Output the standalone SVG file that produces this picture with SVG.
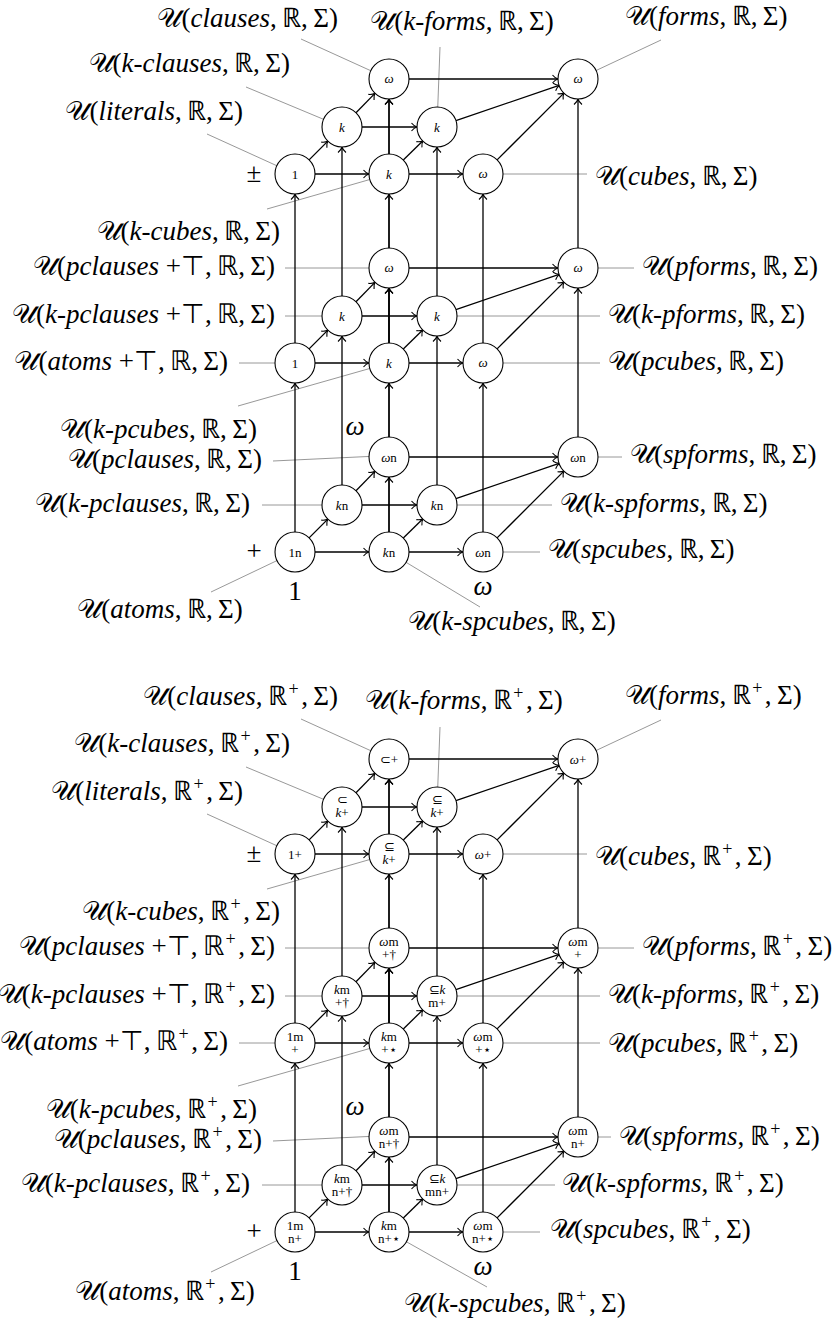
<svg xmlns="http://www.w3.org/2000/svg" width="834" height="1326" viewBox="0 0 834 1326">
<style>
.lbl{font-family:"Liberation Serif",serif;font-size:27px;fill:#000}
.sup{font-size:18px}
.it{font-style:italic}
.nt{font-family:"Liberation Serif",serif;font-size:13px;text-anchor:middle;fill:#000}
.node circle{fill:#fff;stroke:#000;stroke-width:1.1}
.edge line{stroke:#000;stroke-width:1.3;marker-end:url(#arr)}
.lead line{stroke:#8c8c8c;stroke-width:0.9}
</style>
<defs>
<marker id="arr" viewBox="-6 -5 8 10" markerWidth="8" markerHeight="10" refX="0" refY="0" orient="auto" markerUnits="userSpaceOnUse">
<path d="M-5,-4 C-3,-1.5 -1,-0.4 0.5,0 C-1,0.4 -3,1.5 -5,4" fill="none" stroke="#000" stroke-width="1.1"/>
</marker>
</defs>
<rect width="834" height="1326" fill="#fff"/>

<g id="connectors">
<g class="lead" id="leaders">
<line x1="301" y1="39" x2="389" y2="79"/>
<line x1="440" y1="47" x2="437" y2="127"/>
<line x1="661" y1="40" x2="578" y2="79"/>
<line x1="246" y1="87" x2="342" y2="127"/>
<line x1="207" y1="134" x2="295" y2="174"/>
<line x1="267" y1="209" x2="389" y2="174"/>
<line x1="483" y1="174" x2="587" y2="174"/>
<line x1="285" y1="268" x2="389" y2="268"/>
<line x1="285" y1="316" x2="342" y2="316"/>
<line x1="239" y1="363" x2="295" y2="363"/>
<line x1="238" y1="406" x2="389" y2="363"/>
<line x1="273" y1="461" x2="389" y2="455.5"/>
<line x1="262" y1="505" x2="342" y2="505"/>
<line x1="211" y1="592" x2="295" y2="552"/>
<line x1="578" y1="268" x2="634" y2="268"/>
<line x1="437" y1="316" x2="600" y2="316"/>
<line x1="483" y1="363" x2="600" y2="363"/>
<line x1="578" y1="457" x2="622" y2="457"/>
<line x1="437" y1="505" x2="552" y2="505"/>
<line x1="483" y1="552" x2="540" y2="552"/>
<line x1="389" y1="552" x2="480" y2="607"/>
<line x1="301" y1="719" x2="389" y2="759"/>
<line x1="440" y1="727" x2="437" y2="807"/>
<line x1="661" y1="720" x2="578" y2="759"/>
<line x1="246" y1="767" x2="342" y2="807"/>
<line x1="207" y1="814" x2="295" y2="854"/>
<line x1="267" y1="889" x2="389" y2="854"/>
<line x1="483" y1="854" x2="587" y2="854"/>
<line x1="285" y1="948" x2="389" y2="948"/>
<line x1="285" y1="996" x2="342" y2="996"/>
<line x1="239" y1="1043" x2="295" y2="1043"/>
<line x1="238" y1="1086" x2="389" y2="1043"/>
<line x1="273" y1="1141" x2="389" y2="1135.5"/>
<line x1="262" y1="1185" x2="342" y2="1185"/>
<line x1="211" y1="1272" x2="295" y2="1232"/>
<line x1="578" y1="948" x2="634" y2="948"/>
<line x1="437" y1="996" x2="600" y2="996"/>
<line x1="483" y1="1043" x2="600" y2="1043"/>
<line x1="578" y1="1137" x2="611" y2="1137"/>
<line x1="437" y1="1185" x2="555" y2="1185"/>
<line x1="483" y1="1232" x2="540" y2="1232"/>
<line x1="389" y1="1232" x2="487" y2="1287"/>
</g>

<g class="edge" id="intra-1">
<line x1="315" y1="174" x2="368.5" y2="174"/><line x1="409" y1="174" x2="462.5" y2="174"/><line x1="309.1" y1="159.9" x2="327.6" y2="141.4"/><line x1="356" y1="112.7" x2="374.7" y2="93.6"/><line x1="362" y1="127" x2="416.5" y2="127"/><line x1="403.3" y1="160" x2="422.7" y2="141"/><line x1="389" y1="154" x2="389" y2="99.5"/><line x1="409" y1="79" x2="557.5" y2="79"/><line x1="455.9" y1="120.6" x2="559.1" y2="85.4"/><line x1="497.1" y1="159.9" x2="563.9" y2="93.1"/>
</g>
<g class="edge" id="intra-2" transform="translate(0,189)">
<line x1="315" y1="174" x2="368.5" y2="174"/><line x1="409" y1="174" x2="462.5" y2="174"/><line x1="309.1" y1="159.9" x2="327.6" y2="141.4"/><line x1="356" y1="112.7" x2="374.7" y2="93.6"/><line x1="362" y1="127" x2="416.5" y2="127"/><line x1="403.3" y1="160" x2="422.7" y2="141"/><line x1="389" y1="154" x2="389" y2="99.5"/><line x1="409" y1="79" x2="557.5" y2="79"/><line x1="455.9" y1="120.6" x2="559.1" y2="85.4"/><line x1="497.1" y1="159.9" x2="563.9" y2="93.1"/>
</g>
<g class="edge" id="intra-3" transform="translate(0,378)">
<line x1="315" y1="174" x2="368.5" y2="174"/><line x1="409" y1="174" x2="462.5" y2="174"/><line x1="309.1" y1="159.9" x2="327.6" y2="141.4"/><line x1="356" y1="112.7" x2="374.7" y2="93.6"/><line x1="362" y1="127" x2="416.5" y2="127"/><line x1="403.3" y1="160" x2="422.7" y2="141"/><line x1="389" y1="154" x2="389" y2="99.5"/><line x1="409" y1="79" x2="557.5" y2="79"/><line x1="455.9" y1="120.6" x2="559.1" y2="85.4"/><line x1="497.1" y1="159.9" x2="563.9" y2="93.1"/>
</g>
<g class="edge" id="intra-4" transform="translate(0,680)">
<line x1="315" y1="174" x2="368.5" y2="174"/><line x1="409" y1="174" x2="462.5" y2="174"/><line x1="309.1" y1="159.9" x2="327.6" y2="141.4"/><line x1="356" y1="112.7" x2="374.7" y2="93.6"/><line x1="362" y1="127" x2="416.5" y2="127"/><line x1="403.3" y1="160" x2="422.7" y2="141"/><line x1="389" y1="154" x2="389" y2="99.5"/><line x1="409" y1="79" x2="557.5" y2="79"/><line x1="455.9" y1="120.6" x2="559.1" y2="85.4"/><line x1="497.1" y1="159.9" x2="563.9" y2="93.1"/>
</g>
<g class="edge" id="intra-5" transform="translate(0,869)">
<line x1="315" y1="174" x2="368.5" y2="174"/><line x1="409" y1="174" x2="462.5" y2="174"/><line x1="309.1" y1="159.9" x2="327.6" y2="141.4"/><line x1="356" y1="112.7" x2="374.7" y2="93.6"/><line x1="362" y1="127" x2="416.5" y2="127"/><line x1="403.3" y1="160" x2="422.7" y2="141"/><line x1="389" y1="154" x2="389" y2="99.5"/><line x1="409" y1="79" x2="557.5" y2="79"/><line x1="455.9" y1="120.6" x2="559.1" y2="85.4"/><line x1="497.1" y1="159.9" x2="563.9" y2="93.1"/>
</g>
<g class="edge" id="intra-6" transform="translate(0,1058)">
<line x1="315" y1="174" x2="368.5" y2="174"/><line x1="409" y1="174" x2="462.5" y2="174"/><line x1="309.1" y1="159.9" x2="327.6" y2="141.4"/><line x1="356" y1="112.7" x2="374.7" y2="93.6"/><line x1="362" y1="127" x2="416.5" y2="127"/><line x1="403.3" y1="160" x2="422.7" y2="141"/><line x1="389" y1="154" x2="389" y2="99.5"/><line x1="409" y1="79" x2="557.5" y2="79"/><line x1="455.9" y1="120.6" x2="559.1" y2="85.4"/><line x1="497.1" y1="159.9" x2="563.9" y2="93.1"/>
</g>
<g class="edge" id="inter-21">
<line x1="295" y1="343" x2="295" y2="194.5"/><line x1="389" y1="343" x2="389" y2="194.5"/><line x1="483" y1="343" x2="483" y2="194.5"/><line x1="342" y1="296" x2="342" y2="147.5"/><line x1="437" y1="296" x2="437" y2="147.5"/><line x1="389" y1="248" x2="389" y2="99.5"/><line x1="578" y1="248" x2="578" y2="99.5"/>
</g>
<g class="edge" id="inter-32" transform="translate(0,189)">
<line x1="295" y1="343" x2="295" y2="194.5"/><line x1="389" y1="343" x2="389" y2="194.5"/><line x1="483" y1="343" x2="483" y2="194.5"/><line x1="342" y1="296" x2="342" y2="147.5"/><line x1="437" y1="296" x2="437" y2="147.5"/><line x1="389" y1="248" x2="389" y2="99.5"/><line x1="578" y1="248" x2="578" y2="99.5"/>
</g>
<g class="edge" id="inter-54" transform="translate(0,680)">
<line x1="295" y1="343" x2="295" y2="194.5"/><line x1="389" y1="343" x2="389" y2="194.5"/><line x1="483" y1="343" x2="483" y2="194.5"/><line x1="342" y1="296" x2="342" y2="147.5"/><line x1="437" y1="296" x2="437" y2="147.5"/><line x1="389" y1="248" x2="389" y2="99.5"/><line x1="578" y1="248" x2="578" y2="99.5"/>
</g>
<g class="edge" id="inter-65" transform="translate(0,869)">
<line x1="295" y1="343" x2="295" y2="194.5"/><line x1="389" y1="343" x2="389" y2="194.5"/><line x1="483" y1="343" x2="483" y2="194.5"/><line x1="342" y1="296" x2="342" y2="147.5"/><line x1="437" y1="296" x2="437" y2="147.5"/><line x1="389" y1="248" x2="389" y2="99.5"/><line x1="578" y1="248" x2="578" y2="99.5"/>
</g>
</g>

<g id="nodes">
<g id="n-literals" class="node" transform="translate(295,174)"><circle r="20"/><text class="nt" y="4.5">1</text></g>
<g id="n-kcubes" class="node" transform="translate(389,174)"><circle r="20"/><text class="nt it" y="4.5">k</text></g>
<g id="n-cubes" class="node" transform="translate(483,174)"><circle r="20"/><text class="nt it" y="4">ω</text></g>
<g id="n-kclauses" class="node" transform="translate(342,127)"><circle r="20"/><text class="nt it" y="4.5">k</text></g>
<g id="n-kforms" class="node" transform="translate(437,127)"><circle r="20"/><text class="nt it" y="4.5">k</text></g>
<g id="n-clauses" class="node" transform="translate(389,79)"><circle r="20"/><text class="nt it" y="4">ω</text></g>
<g id="n-forms" class="node" transform="translate(578,79)"><circle r="20"/><text class="nt it" y="4">ω</text></g>

<g id="n-atomsT" class="node" transform="translate(295,363)"><circle r="20"/><text class="nt" y="4.5">1</text></g>
<g id="n-kpcubes" class="node" transform="translate(389,363)"><circle r="20"/><text class="nt it" y="4.5">k</text></g>
<g id="n-pcubes" class="node" transform="translate(483,363)"><circle r="20"/><text class="nt it" y="4">ω</text></g>
<g id="n-kpclausesT" class="node" transform="translate(342,316)"><circle r="20"/><text class="nt it" y="4.5">k</text></g>
<g id="n-kpforms" class="node" transform="translate(437,316)"><circle r="20"/><text class="nt it" y="4.5">k</text></g>
<g id="n-pclausesT" class="node" transform="translate(389,268)"><circle r="20"/><text class="nt it" y="4">ω</text></g>
<g id="n-pforms" class="node" transform="translate(578,268)"><circle r="20"/><text class="nt it" y="4">ω</text></g>

<g id="n-atoms" class="node" transform="translate(295,552)"><circle r="20"/><text class="nt" y="4.5">1n</text></g>
<g id="n-kspcubes" class="node" transform="translate(389,552)"><circle r="20"/><text class="nt" y="4.5"><tspan class="it">k</tspan>n</text></g>
<g id="n-spcubes" class="node" transform="translate(483,552)"><circle r="20"/><text class="nt" y="4.5"><tspan class="it">ω</tspan>n</text></g>
<g id="n-kpclauses" class="node" transform="translate(342,505)"><circle r="20"/><text class="nt" y="4.5"><tspan class="it">k</tspan>n</text></g>
<g id="n-kspforms" class="node" transform="translate(437,505)"><circle r="20"/><text class="nt" y="4.5"><tspan class="it">k</tspan>n</text></g>
<g id="n-pclauses" class="node" transform="translate(389,457)"><circle r="20"/><text class="nt" y="4.5"><tspan class="it">ω</tspan>n</text></g>
<g id="n-spforms" class="node" transform="translate(578,457)"><circle r="20"/><text class="nt" y="4.5"><tspan class="it">ω</tspan>n</text></g>

<g id="p-literals" class="node" transform="translate(295,854)"><circle r="20"/><text class="nt" y="4.5">1+</text></g>
<g id="p-kcubes" class="node" transform="translate(389,854)"><circle r="20"/><text class="nt" y="-3">⊆</text><text class="nt" y="10"><tspan class="it">k</tspan>+</text></g>
<g id="p-cubes" class="node" transform="translate(483,854)"><circle r="20"/><text class="nt" y="4.5"><tspan class="it">ω</tspan>+</text></g>
<g id="p-kclauses" class="node" transform="translate(342,807)"><circle r="20"/><text class="nt" y="-3">⊂</text><text class="nt" y="10"><tspan class="it">k</tspan>+</text></g>
<g id="p-kforms" class="node" transform="translate(437,807)"><circle r="20"/><text class="nt" y="-3">⊆</text><text class="nt" y="10"><tspan class="it">k</tspan>+</text></g>
<g id="p-clauses" class="node" transform="translate(389,759)"><circle r="20"/><text class="nt" y="4.5">⊂+</text></g>
<g id="p-forms" class="node" transform="translate(578,759)"><circle r="20"/><text class="nt" y="4.5"><tspan class="it">ω</tspan>+</text></g>

<g id="p-atomsT" class="node" transform="translate(295,1043)"><circle r="20"/><text class="nt" y="-2.5">1m</text><text class="nt" y="10.5">+</text></g>
<g id="p-kpcubes" class="node" transform="translate(389,1043)"><circle r="20"/><text class="nt" y="-2.5"><tspan class="it">k</tspan>m</text><text class="nt" y="10.5">+⋆</text></g>
<g id="p-pcubes" class="node" transform="translate(483,1043)"><circle r="20"/><text class="nt" y="-2.5"><tspan class="it">ω</tspan>m</text><text class="nt" y="10.5">+⋆</text></g>
<g id="p-kpclausesT" class="node" transform="translate(342,996)"><circle r="20"/><text class="nt" y="-2.5"><tspan class="it">k</tspan>m</text><text class="nt" y="10.5">+†</text></g>
<g id="p-kpforms" class="node" transform="translate(437,996)"><circle r="20"/><text class="nt" y="-2.5">⊆<tspan class="it">k</tspan></text><text class="nt" y="10.5">m+</text></g>
<g id="p-pclausesT" class="node" transform="translate(389,948)"><circle r="20"/><text class="nt" y="-2.5"><tspan class="it">ω</tspan>m</text><text class="nt" y="10.5">+†</text></g>
<g id="p-pforms" class="node" transform="translate(578,948)"><circle r="20"/><text class="nt" y="-2.5"><tspan class="it">ω</tspan>m</text><text class="nt" y="10.5">+</text></g>

<g id="p-atoms" class="node" transform="translate(295,1232)"><circle r="20"/><text class="nt" y="-2.5">1m</text><text class="nt" y="10.5">n+</text></g>
<g id="p-kspcubes" class="node" transform="translate(389,1232)"><circle r="20"/><text class="nt" y="-2.5"><tspan class="it">k</tspan>m</text><text class="nt" y="10.5">n+⋆</text></g>
<g id="p-spcubes" class="node" transform="translate(483,1232)"><circle r="20"/><text class="nt" y="-2.5"><tspan class="it">ω</tspan>m</text><text class="nt" y="10.5">n+⋆</text></g>
<g id="p-kpclauses" class="node" transform="translate(342,1185)"><circle r="20"/><text class="nt" y="-2.5"><tspan class="it">k</tspan>m</text><text class="nt" y="10.5">n+†</text></g>
<g id="p-kspforms" class="node" transform="translate(437,1185)"><circle r="20"/><text class="nt" y="-2.5">⊆<tspan class="it">k</tspan></text><text class="nt" y="10.5">mn+</text></g>
<g id="p-pclauses" class="node" transform="translate(389,1137)"><circle r="20"/><text class="nt" y="-2.5"><tspan class="it">ω</tspan>m</text><text class="nt" y="10.5">n+†</text></g>
<g id="p-spforms" class="node" transform="translate(578,1137)"><circle r="20"/><text class="nt" y="-2.5"><tspan class="it">ω</tspan>m</text><text class="nt" y="10.5">n+</text></g>
</g>

<g id="labels-top">
<text class="lbl" x="338" y="27" text-anchor="end">𝒰(<tspan class="it">clauses</tspan>,&#8201;ℝ,&#8201;Σ)</text>
<text class="lbl" x="462" y="30" text-anchor="middle">𝒰(<tspan class="it">k-forms</tspan>,&#8201;ℝ,&#8201;Σ)</text>
<text class="lbl" x="625" y="25">𝒰(<tspan class="it">forms</tspan>,&#8201;ℝ,&#8201;Σ)</text>
<text class="lbl" x="290" y="72" text-anchor="end">𝒰(<tspan class="it">k-clauses</tspan>,&#8201;ℝ,&#8201;Σ)</text>
<text class="lbl" x="243" y="120" text-anchor="end">𝒰(<tspan class="it">literals</tspan>,&#8201;ℝ,&#8201;Σ)</text>
<text class="lbl" x="254" y="182" text-anchor="middle">±</text>
<text class="lbl" x="595" y="185">𝒰(<tspan class="it">cubes</tspan>,&#8201;ℝ,&#8201;Σ)</text>
<text class="lbl" x="280" y="240" text-anchor="end">𝒰(<tspan class="it">k-cubes</tspan>,&#8201;ℝ,&#8201;Σ)</text>
<text class="lbl" x="275" y="275" text-anchor="end">𝒰(<tspan class="it">pclauses</tspan> +⊤,&#8201;ℝ,&#8201;Σ)</text>
<text class="lbl" x="642" y="275">𝒰(<tspan class="it">pforms</tspan>,&#8201;ℝ,&#8201;Σ)</text>
<text class="lbl" x="275" y="323" text-anchor="end">𝒰(<tspan class="it">k-pclauses</tspan> +⊤,&#8201;ℝ,&#8201;Σ)</text>
<text class="lbl" x="608" y="323">𝒰(<tspan class="it">k-pforms</tspan>,&#8201;ℝ,&#8201;Σ)</text>
<text class="lbl" x="228" y="370" text-anchor="end">𝒰(<tspan class="it">atoms</tspan> +⊤,&#8201;ℝ,&#8201;Σ)</text>
<text class="lbl" x="608" y="370">𝒰(<tspan class="it">pcubes</tspan>,&#8201;ℝ,&#8201;Σ)</text>
<text class="lbl" x="257" y="438" text-anchor="end">𝒰(<tspan class="it">k-pcubes</tspan>,&#8201;ℝ,&#8201;Σ)</text>
<text class="lbl it" x="355" y="435" text-anchor="middle">ω</text>
<text class="lbl" x="262" y="468" text-anchor="end">𝒰(<tspan class="it">pclauses</tspan>,&#8201;ℝ,&#8201;Σ)</text>
<text class="lbl" x="630" y="463">𝒰(<tspan class="it">spforms</tspan>,&#8201;ℝ,&#8201;Σ)</text>
<text class="lbl" x="250" y="512" text-anchor="end">𝒰(<tspan class="it">k-pclauses</tspan>,&#8201;ℝ,&#8201;Σ)</text>
<text class="lbl" x="560" y="512">𝒰(<tspan class="it">k-spforms</tspan>,&#8201;ℝ,&#8201;Σ)</text>
<text class="lbl" x="254" y="560" text-anchor="middle">+</text>
<text class="lbl" x="548" y="558">𝒰(<tspan class="it">spcubes</tspan>,&#8201;ℝ,&#8201;Σ)</text>
<text class="lbl" x="295" y="600" text-anchor="middle">1</text>
<text class="lbl it" x="483" y="595" text-anchor="middle">ω</text>
<text class="lbl" x="160" y="618" text-anchor="middle">𝒰(<tspan class="it">atoms</tspan>,&#8201;ℝ,&#8201;Σ)</text>
<text class="lbl" x="512" y="630" text-anchor="middle">𝒰(<tspan class="it">k-spcubes</tspan>,&#8201;ℝ,&#8201;Σ)</text>
</g>

<g id="labels-bottom">
<text class="lbl" x="338" y="705" text-anchor="end">𝒰(<tspan class="it">clauses</tspan>,&#8201;ℝ<tspan class="sup" dx="1.5" dy="-10">+</tspan><tspan dx="2.5" dy="10">,&#8201;Σ)</tspan></text>
<text class="lbl" x="464" y="709" text-anchor="middle">𝒰(<tspan class="it">k-forms</tspan>,&#8201;ℝ<tspan class="sup" dx="1.5" dy="-10">+</tspan><tspan dx="2.5" dy="10">,&#8201;Σ)</tspan></text>
<text class="lbl" x="625" y="704">𝒰(<tspan class="it">forms</tspan>,&#8201;ℝ<tspan class="sup" dx="1.5" dy="-10">+</tspan><tspan dx="2.5" dy="10">,&#8201;Σ)</tspan></text>
<text class="lbl" x="290" y="752" text-anchor="end">𝒰(<tspan class="it">k-clauses</tspan>,&#8201;ℝ<tspan class="sup" dx="1.5" dy="-10">+</tspan><tspan dx="2.5" dy="10">,&#8201;Σ)</tspan></text>
<text class="lbl" x="243" y="800" text-anchor="end">𝒰(<tspan class="it">literals</tspan>,&#8201;ℝ<tspan class="sup" dx="1.5" dy="-10">+</tspan><tspan dx="2.5" dy="10">,&#8201;Σ)</tspan></text>
<text class="lbl" x="254" y="862" text-anchor="middle">±</text>
<text class="lbl" x="595" y="865">𝒰(<tspan class="it">cubes</tspan>,&#8201;ℝ<tspan class="sup" dx="1.5" dy="-10">+</tspan><tspan dx="2.5" dy="10">,&#8201;Σ)</tspan></text>
<text class="lbl" x="280" y="920" text-anchor="end">𝒰(<tspan class="it">k-cubes</tspan>,&#8201;ℝ<tspan class="sup" dx="1.5" dy="-10">+</tspan><tspan dx="2.5" dy="10">,&#8201;Σ)</tspan></text>
<text class="lbl" x="275" y="955" text-anchor="end">𝒰(<tspan class="it">pclauses</tspan> +⊤,&#8201;ℝ<tspan class="sup" dx="1.5" dy="-10">+</tspan><tspan dx="2.5" dy="10">,&#8201;Σ)</tspan></text>
<text class="lbl" x="642" y="955">𝒰(<tspan class="it">pforms</tspan>,&#8201;ℝ<tspan class="sup" dx="1.5" dy="-10">+</tspan><tspan dx="2.5" dy="10">,&#8201;Σ)</tspan></text>
<text class="lbl" x="275" y="1003" text-anchor="end">𝒰(<tspan class="it">k-pclauses</tspan> +⊤,&#8201;ℝ<tspan class="sup" dx="1.5" dy="-10">+</tspan><tspan dx="2.5" dy="10">,&#8201;Σ)</tspan></text>
<text class="lbl" x="608" y="1003">𝒰(<tspan class="it">k-pforms</tspan>,&#8201;ℝ<tspan class="sup" dx="1.5" dy="-10">+</tspan><tspan dx="2.5" dy="10">,&#8201;Σ)</tspan></text>
<text class="lbl" x="228" y="1050" text-anchor="end">𝒰(<tspan class="it">atoms</tspan> +⊤,&#8201;ℝ<tspan class="sup" dx="1.5" dy="-10">+</tspan><tspan dx="2.5" dy="10">,&#8201;Σ)</tspan></text>
<text class="lbl" x="608" y="1052">𝒰(<tspan class="it">pcubes</tspan>,&#8201;ℝ<tspan class="sup" dx="1.5" dy="-10">+</tspan><tspan dx="2.5" dy="10">,&#8201;Σ)</tspan></text>
<text class="lbl" x="257" y="1118" text-anchor="end">𝒰(<tspan class="it">k-pcubes</tspan>,&#8201;ℝ<tspan class="sup" dx="1.5" dy="-10">+</tspan><tspan dx="2.5" dy="10">,&#8201;Σ)</tspan></text>
<text class="lbl it" x="355" y="1115" text-anchor="middle">ω</text>
<text class="lbl" x="262" y="1148" text-anchor="end">𝒰(<tspan class="it">pclauses</tspan>,&#8201;ℝ<tspan class="sup" dx="1.5" dy="-10">+</tspan><tspan dx="2.5" dy="10">,&#8201;Σ)</tspan></text>
<text class="lbl" x="619" y="1145">𝒰(<tspan class="it">spforms</tspan>,&#8201;ℝ<tspan class="sup" dx="1.5" dy="-10">+</tspan><tspan dx="2.5" dy="10">,&#8201;Σ)</tspan></text>
<text class="lbl" x="250" y="1192" text-anchor="end">𝒰(<tspan class="it">k-pclauses</tspan>,&#8201;ℝ<tspan class="sup" dx="1.5" dy="-10">+</tspan><tspan dx="2.5" dy="10">,&#8201;Σ)</tspan></text>
<text class="lbl" x="562" y="1192">𝒰(<tspan class="it">k-spforms</tspan>,&#8201;ℝ<tspan class="sup" dx="1.5" dy="-10">+</tspan><tspan dx="2.5" dy="10">,&#8201;Σ)</tspan></text>
<text class="lbl" x="254" y="1240" text-anchor="middle">+</text>
<text class="lbl" x="550" y="1238">𝒰(<tspan class="it">spcubes</tspan>,&#8201;ℝ<tspan class="sup" dx="1.5" dy="-10">+</tspan><tspan dx="2.5" dy="10">,&#8201;Σ)</tspan></text>
<text class="lbl" x="295" y="1280" text-anchor="middle">1</text>
<text class="lbl it" x="483" y="1275" text-anchor="middle">ω</text>
<text class="lbl" x="165" y="1300" text-anchor="middle">𝒰(<tspan class="it">atoms</tspan>,&#8201;ℝ<tspan class="sup" dx="1.5" dy="-10">+</tspan><tspan dx="2.5" dy="10">,&#8201;Σ)</tspan></text>
<text class="lbl" x="515" y="1312" text-anchor="middle">𝒰(<tspan class="it">k-spcubes</tspan>,&#8201;ℝ<tspan class="sup" dx="1.5" dy="-10">+</tspan><tspan dx="2.5" dy="10">,&#8201;Σ)</tspan></text>
</g>
</svg>
